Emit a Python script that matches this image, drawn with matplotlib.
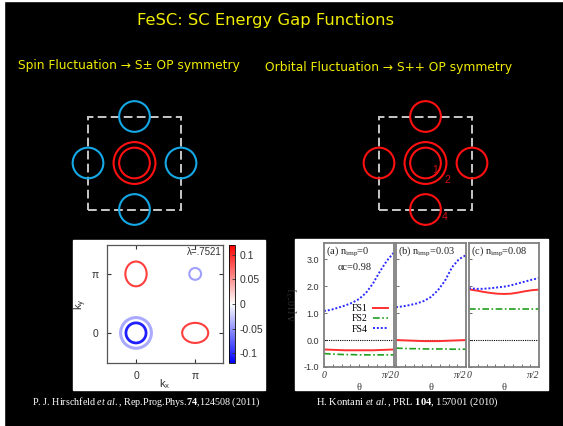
import numpy as np
import matplotlib
matplotlib.use("Agg")
import matplotlib.pyplot as plt
from matplotlib.patches import Circle, Ellipse, Rectangle
from matplotlib.colors import Normalize
from matplotlib.colorbar import ColorbarBase
from matplotlib.ticker import MultipleLocator

W, H, DPI = 563, 426, 100

plt.rcParams['mathtext.fontset'] = 'custom'
plt.rcParams['mathtext.rm'] = 'Liberation Serif'
plt.rcParams['mathtext.it'] = 'Liberation Serif:italic'
plt.rcParams['mathtext.bf'] = 'Liberation Serif:bold'

# ---- slide text ----
title = "FeSC: SC Energy Gap Functions"
left_heading = "Spin Fluctuation \u2192 S\u00b1 OP symmetry"
right_heading = "Orbital Fluctuation \u2192 S++ OP symmetry"
left_ref = r"P. J. Hirschfeld $\it{et\ al.}$, Rep.Prog.Phys.$\bf{74}$,124508 (2011)"
right_ref = r"H. Kontani $\it{et\ al.}$, PRL $\bf{104}$, 157001 (2010)"

# ---- schematic Fermi surfaces (units of pi, zone edge at +-1) ----
hole_radii = [0.45, 0.33]
electron_x = [0, -1, 1, 0]
electron_y = [1, 0, 0, -1]
electron_radius = 0.33
pocket_labels = ["1", "2", "4"]
pocket_label_x = [0.20, 0.46, 0.42]
pocket_label_y = [-0.16, -0.36, -1.16]

# ---- gap on Fermi pockets (spin fluctuation) ----
pocket_kx = [0, 1, 1, 0, 0]
pocket_ky = [1, 0, 1, 0, 0]
pocket_ax = [0.18, 0.22, 0.10, 0.26, 0.17]
pocket_ay = [0.21, 0.17, 0.10, 0.26, 0.17]
pocket_gap = [0.09, 0.09, -0.045, -0.04, -0.105]
pocket_lw = [1.5, 1.5, 1.5, 2.2, 2.0]
cbar_ticks = [0.1, 0.05, 0, -0.05, -0.1]
cbar_labels = ["0.1", "0.05", "0", "-0.05", "-0.1"]

# ---- gap vs angle (orbital fluctuation) ----
theta = [0.0, 0.1, 0.2, 0.3, 0.4, 0.5, 0.6, 0.7, 0.8, 0.9, 1.0]
fs1_a = [-0.35, -0.36, -0.37, -0.38, -0.38, -0.38, -0.38, -0.38, -0.37, -0.36, -0.35]
fs2_a = [-0.50, -0.52, -0.53, -0.54, -0.54, -0.55, -0.55, -0.55, -0.55, -0.55, -0.55]
fs4_a = [1.08, 1.12, 1.20, 1.28, 1.38, 1.52, 1.75, 2.10, 2.55, 2.95, 3.25]
fs1_b = [0.0, -0.01, -0.02, -0.03, -0.04, -0.04, -0.04, -0.03, -0.02, -0.01, 0.0]
fs2_b = [-0.30, -0.31, -0.32, -0.32, -0.33, -0.33, -0.33, -0.33, -0.34, -0.34, -0.34]
fs4_b = [1.22, 1.25, 1.30, 1.36, 1.45, 1.60, 1.85, 2.20, 2.70, 3.00, 3.15]
fs1_c = [1.88, 1.84, 1.79, 1.75, 1.72, 1.71, 1.72, 1.76, 1.81, 1.85, 1.87]
fs2_c = [1.16, 1.16, 1.16, 1.16, 1.16, 1.16, 1.16, 1.16, 1.16, 1.16, 1.16]
fs4_c = [1.92, 1.90, 1.90, 1.92, 1.95, 1.98, 2.03, 2.10, 2.17, 2.24, 2.30]
panel_tags = ["(a) n$_{\\rm imp}$=0", "(b) n$_{\\rm imp}$=0.03", "(c) n$_{\\rm imp}$=0.08"]
y_ticks = [3.0, 2.0, 1.0, 0.0, -1.0]
y_ticklabels = ["3.0", "2.0", "1.0", "0.0", "-1.0"]

YELLOW = "#f0ec00"
SERIF = ["Liberation Serif", "DejaVu Serif"]
SANS = ["Liberation Sans", "DejaVu Sans"]

fig = plt.figure(figsize=(W / DPI, H / DPI), dpi=DPI, facecolor="black")


def px_axes(x0, y0, x1, y1):
    return fig.add_axes([x0 / W, 1 - y1 / H, (x1 - x0) / W, (y1 - y0) / H])


bg = fig.add_axes([0, 0, 1, 1])
bg.set_xlim(0, W)
bg.set_ylim(H, 0)
bg.set_facecolor("black")
bg.axis("off")
bg.add_patch(Rectangle((0, 0), 4, H, color="white"))
bg.add_patch(Rectangle((0, 0), W, 1.2, color="white"))
bg.add_patch(Rectangle((73, 240), 192, 150, color="white"))
bg.add_patch(Rectangle((295, 239), 253, 151, color="white"))

bg.text(266, 21, title, color=YELLOW, fontsize=11.8, ha="center", va="center",
        family=["DejaVu Sans"])
bg.text(18, 66, left_heading, color=YELLOW, fontsize=8.8, ha="left", va="center",
        family=["DejaVu Sans"])
bg.text(265, 67, right_heading, color=YELLOW, fontsize=8.8, ha="left", va="center",
        family=["DejaVu Sans"])
bg.text(146, 402, left_ref, color="white", fontsize=7.3, ha="center", va="center",
        family=SERIF)
bg.text(407, 402, right_ref, color="white", fontsize=7.6, ha="center", va="center",
        family=SERIF)


def schematic(ax, electron_color, labels=False):
    ax.set_xlim(-1.6, 1.6)
    ax.set_ylim(-1.6, 1.6)
    ax.axis("off")
    ax.patch.set_alpha(0)
    ax.add_patch(Rectangle((-1, -1), 2, 2, fill=False, ec="#c8c8c8", lw=1.4,
                           ls=(0, (4.5, 2.2)), zorder=1))
    for r in hole_radii:
        ax.add_patch(Circle((0, 0), r, fill=False, ec="#ff1010", lw=1.5, zorder=2))
    for x, y in zip(electron_x, electron_y):
        ax.add_patch(Circle((x, y), electron_radius, fill=False, ec=electron_color,
                            lw=1.5, zorder=2))
    if labels:
        for t, x, y in zip(pocket_labels, pocket_label_x, pocket_label_y):
            ax.text(x, y, t, color="#d01010", fontsize=7.5, ha="center", va="center",
                    family=SANS, zorder=3)


schematic(px_axes(60.1, 88.6, 208.9, 237.4), "#14a8e6")
schematic(px_axes(351.1, 88.6, 499.9, 237.4), "#ff1010", labels=True)

# ---- gap map on the Fermi pockets ----
cmap = plt.get_cmap("bwr")
norm = Normalize(-0.12, 0.12)
axk = px_axes(107, 245, 223, 363)
axk.set_xlim(-0.49, 1.47)
axk.set_ylim(-0.51, 1.49)
for kx, ky, a, b, g, lw in zip(pocket_kx, pocket_ky, pocket_ax, pocket_ay, pocket_gap, pocket_lw):
    axk.add_patch(Ellipse((kx, ky), 2 * a, 2 * b, fill=False, ec=cmap(norm(g)), lw=lw))
axk.set_xticks([0, 1])
axk.set_xticklabels(["0", "\u03c0"])
axk.set_yticks([0, 1])
axk.set_yticklabels(["0", "\u03c0"])
axk.tick_params(direction="in", length=3, width=0.8, top=True, right=True,
                labelsize=7.5, colors="#333333", pad=6)
for s in axk.spines.values():
    s.set_color("#555555")
    s.set_linewidth(0.9)
axk.set_xlabel("k$_{\\mathregular{x}}$", family=SANS, fontsize=8, color="#333333", labelpad=0)
axk.set_ylabel("k$_{\\mathregular{y}}$", family=SANS, fontsize=8, color="#333333", labelpad=2)
axk.xaxis.set_label_coords(0.5, -0.12)
for lab in axk.get_xticklabels() + axk.get_yticklabels():
    lab.set_family(SANS)
axk.text(0.99, 0.985, "\u03bb=.7521", transform=axk.transAxes, ha="right", va="top",
         fontsize=7, family=SANS, color="#333333")

cax = px_axes(229, 245, 235, 363)
cb = ColorbarBase(cax, cmap=cmap, norm=norm, ticks=cbar_ticks)
cb.set_ticklabels(cbar_labels)
cb.outline.set_linewidth(0.6)
cax.tick_params(labelsize=7.5, length=2, width=0.6, direction="in", colors="#333333")
for lab in cax.get_yticklabels():
    lab.set_family(SANS)

# ---- gap vs angle panels ----
panel_px = [(324, 394), (396, 466), (469, 539)]
curves = [(fs1_a, fs2_a, fs4_a), (fs1_b, fs2_b, fs4_b), (fs1_c, fs2_c, fs4_c)]
for i, ((x0, x1), (f1, f2, f4), tag) in enumerate(zip(panel_px, curves, panel_tags)):
    ax = px_axes(x0, 243, x1, 367)
    ax.set_xlim(0, 1)
    ax.set_ylim(-1.0, 3.6)
    ax.axhline(0, color="black", lw=0.8, ls=(0, (1, 1)))
    l1, = ax.plot(theta, f1, color="#ff3030", lw=1.4, label="FS1")
    l2, = ax.plot(theta, f2, color="#20a020", lw=1.2, ls=(0, (4, 1.5, 1, 1.5)), label="FS2")
    l4, = ax.plot(theta, f4, color="#2a2aff", lw=1.4, ls=(0, (1, 1)), label="FS4")
    for s in ax.spines.values():
        s.set_color("#808080")
        s.set_linewidth(1.3)
    ax.set_xticks([0, 1])
    ax.set_xticklabels(["0", "\u03c0/2"], family=SERIF, style="italic", fontsize=7, color="#333333")
    ax.get_xticklabels()[1].set_ha("right")
    ax.xaxis.set_minor_locator(MultipleLocator(0.125))
    ax.tick_params(axis="x", which="both", direction="in", length=2, width=0.6,
                   colors="#555555", labelcolor="#333333", pad=3)
    ax.set_yticks(y_ticks)
    ax.tick_params(axis="y", direction="in", length=2, width=0.6, colors="#555555")
    if i == 0:
        ax.set_yticklabels(y_ticklabels, family=SANS, fontsize=6.5, color="#333333")
        ax.set_ylabel("\u0394 [10$^{-3}$]", family=SERIF, fontsize=7, color="#333333", labelpad=2)
        ax.text(0.2, 0.8, "\u03b1c=0.98", transform=ax.transAxes, family=SERIF,
                fontsize=7.5, color="#222222", ha="left", va="center")
        leg = ax.legend(handles=[l1, l2, l4], loc="lower right", bbox_to_anchor=(1.0, 0.22),
                        frameon=False, markerfirst=False, handlelength=1.6,
                        handletextpad=0.5, labelspacing=0.15, borderpad=0.1,
                        prop={"family": SERIF, "size": 7})
    else:
        ax.set_yticklabels([])
    ax.set_xlabel("\u03b8", family=SERIF, fontsize=7.5, color="#333333", labelpad=2)
    ax.text(0.03, 0.935, tag, transform=ax.transAxes, family=SERIF, fontsize=7.5,
            color="#222222", ha="left", va="center")

fig.savefig("out.png", dpi=DPI, facecolor="black")
